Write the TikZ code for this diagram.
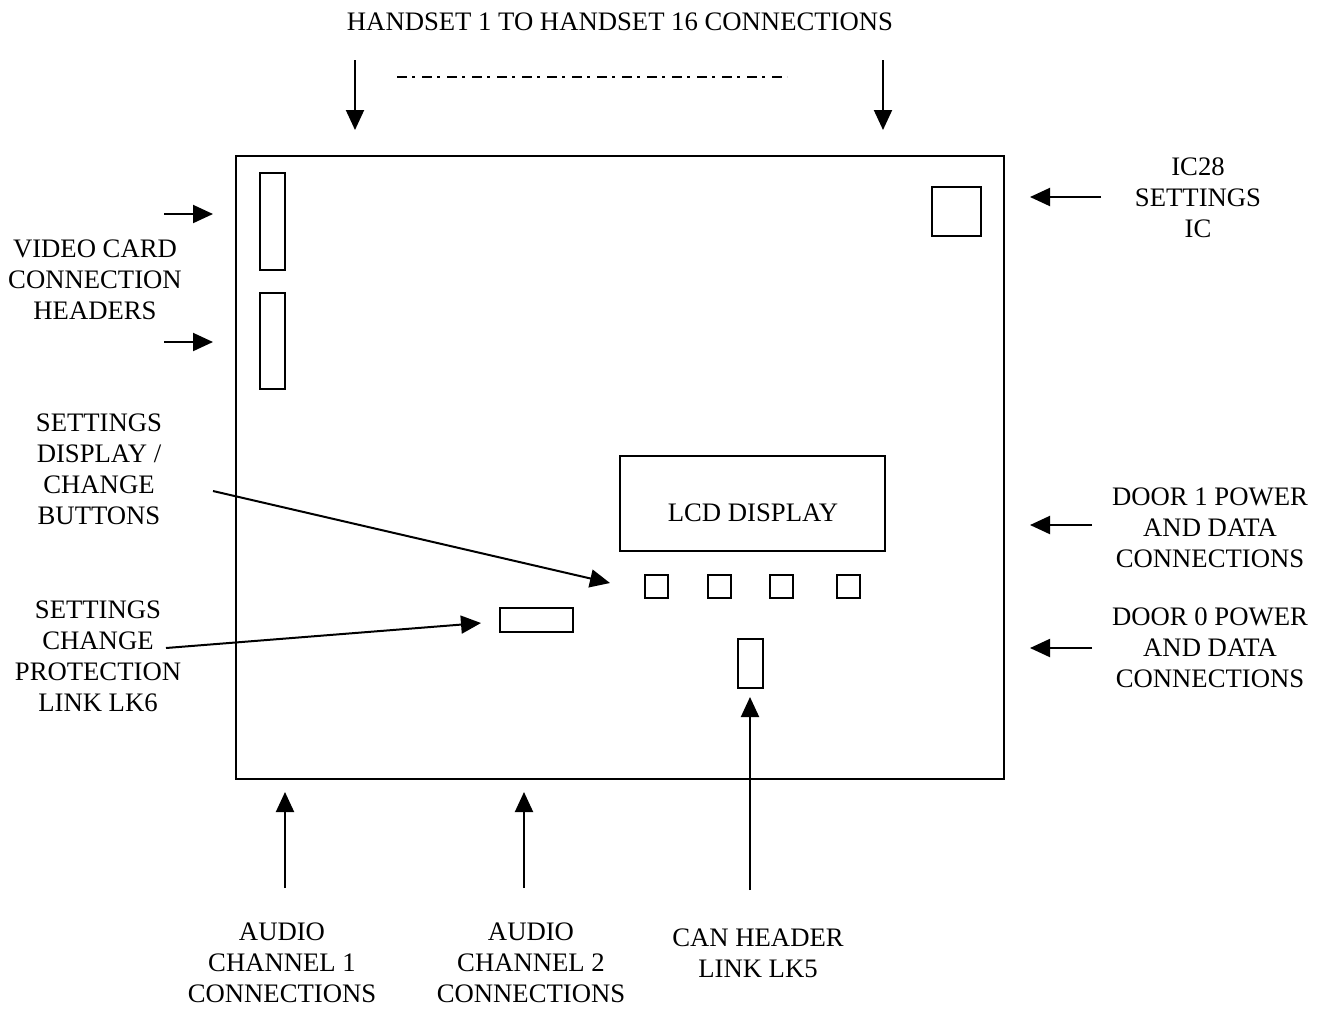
\documentclass[tikz,border=0pt]{standalone}
\usepackage{fontspec}
\setmainfont{Liberation Serif}
\usetikzlibrary{arrows.meta}
\tikzset{
    txt/.style = {align=center, inner sep=0pt, font=\fontsize{13.35}{15.5}\selectfont},
    pcb/.style = {draw=black, line width=1pt, inner sep=0pt},
    comp/.style = {pcb, rectangle},
    btn/.style = {comp, minimum width=11.5pt, minimum height=11.5pt},
    pointer/.style = {-{Triangle[width=9pt, length=10pt]}, line width=1pt}
}
\begin{document}
\begin{tikzpicture}[x=0.5pt, y=-0.5pt]
    \useasboundingbox (0,0) rectangle (1324,1009);
    \node [comp, minimum width=384pt, minimum height=311.5pt] (board) at (620,467.5) {};
    \node [comp, minimum width=12.5pt, minimum height=48.5pt] (hdrA) at (272.5,221.5) {};
    \node [comp, minimum width=12.5pt, minimum height=48pt] (hdrB) at (272.5,341) {};
    \node [comp, minimum width=24.5pt, minimum height=24.5pt] (ic28) at (956.5,211.5) {};
    \node [comp, minimum width=132.5pt, minimum height=47.5pt] (lcd) at (752.5,503.5) {};
    \node [txt] (lcdtxt) at (753,513) {LCD DISPLAY};
    \node [btn] (btnA) at (656.5,586.5) {};
    \node [btn] (btnB) at (719.5,586.5) {};
    \node [btn] (btnC) at (781.5,586.5) {};
    \node [btn] (btnD) at (848.5,586.5) {};
    \node [comp, minimum width=36.5pt, minimum height=12pt] (lksix) at (536.5,620) {};
    \node [comp, minimum width=12.5pt, minimum height=24.5pt] (lkfive) at (750.5,663.5) {};

    \node [txt] (hstxt) at (620,22) {HANDSET 1 TO HANDSET 16 CONNECTIONS};
    \node [txt] (vidtxt) at (95,280) {VIDEO CARD\\CONNECTION\\HEADERS};
    \node [txt] (ictxt) at (1198,198) {IC28\\SETTINGS\\IC};
    \node [txt] (settxt) at (99,469.5) {SETTINGS\\DISPLAY /\\CHANGE\\BUTTONS};
    \node [txt] (protxt) at (98,656.5) {SETTINGS\\CHANGE\\PROTECTION\\LINK LK6};
    \node [txt] (dooronetxt) at (1210,528) {DOOR 1 POWER\\AND DATA\\CONNECTIONS};
    \node [txt] (doorzerotxt) at (1210,648) {DOOR 0 POWER\\AND DATA\\CONNECTIONS};
    \node [txt] (audonetxt) at (282,963) {AUDIO\\CHANNEL 1\\CONNECTIONS};
    \node [txt] (audtwotxt) at (531,963) {AUDIO\\CHANNEL 2\\CONNECTIONS};
    \node [txt] (cantxt) at (758,953.5) {CAN HEADER\\LINK LK5};

    \coordinate (hsA) at (355,60);   \coordinate (hsAtip) at (355,130);
    \coordinate (hsB) at (883,60);   \coordinate (hsBtip) at (883,130);
    \coordinate (dotA) at (397,77);  \coordinate (dotB) at (787,77);
    \coordinate (vidA) at (164,214); \coordinate (vidAtip) at (213,214);
    \coordinate (vidB) at (164,342); \coordinate (vidBtip) at (213,342);
    \coordinate (icA) at (1101,197); \coordinate (icAtip) at (1030,197);
    \coordinate (setA) at (213,491); \coordinate (setAtip) at (610,583);
    \coordinate (proA) at (166,648); \coordinate (proAtip) at (481,623);
    \coordinate (drA) at (1092,525); \coordinate (drAtip) at (1030,525);
    \coordinate (drB) at (1092,648); \coordinate (drBtip) at (1030,648);
    \coordinate (auA) at (285,888);  \coordinate (auAtip) at (285,792);
    \coordinate (auB) at (524,888);  \coordinate (auBtip) at (524,792);
    \coordinate (canA) at (750,890); \coordinate (canAtip) at (750,697);

    \draw [pointer] (hsA) -- (hsAtip);
    \draw [pointer] (hsB) -- (hsBtip);
    \draw [line width=1.2pt, dash pattern=on 5pt off 2.5pt on 1.5pt off 3.5pt] (dotA) -- (dotB);
    \draw [pointer] (vidA) -- (vidAtip);
    \draw [pointer] (vidB) -- (vidBtip);
    \draw [pointer] (icA) -- (icAtip);
    \draw [pointer] (setA) -- (setAtip);
    \draw [pointer] (proA) -- (proAtip);
    \draw [pointer] (drA) -- (drAtip);
    \draw [pointer] (drB) -- (drBtip);
    \draw [pointer] (auA) -- (auAtip);
    \draw [pointer] (auB) -- (auBtip);
    \draw [pointer] (canA) -- (canAtip);
\end{tikzpicture}
\end{document}
